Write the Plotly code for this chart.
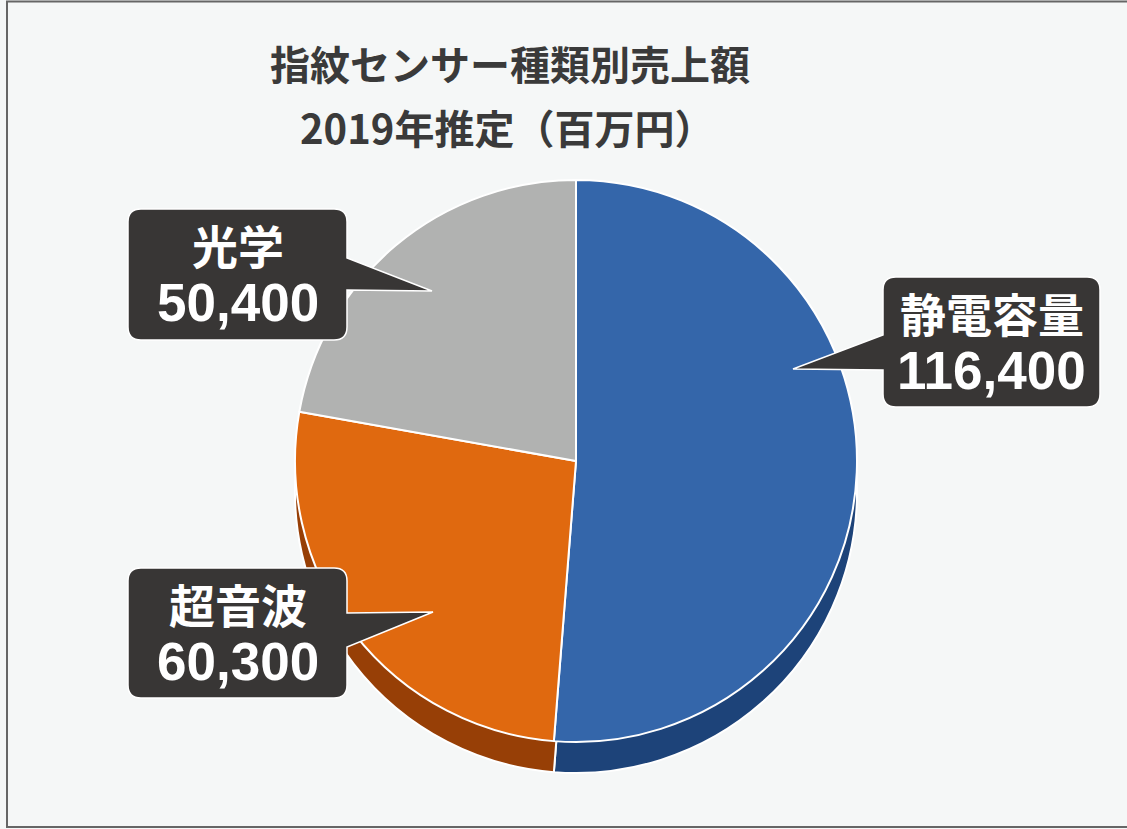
import plotly.graph_objects as go

# ---- data ----
categories = ["静電容量", "超音波", "光学"]
values = [116400, 60300, 50400]
title_line1 = "指紋センサー種類別売上額"
title_line2 = "2019年推定（百万円）"

top_colors = ["#3466aa", "#e0690f", "#b1b2b1"]
side_colors = ["#1d4379", "#973f06", "#7e7f7e"]

W, H = 1127, 829
BG = "#f5f7f7"

# pie geometry in pixels
cx, cy, r, depth = 576, 461, 281, 31


def dom(cx_, cy_, r_):
    return dict(x=[(cx_ - r_) / W, (cx_ + r_) / W],
                y=[(H - cy_ - r_) / H, (H - cy_ + r_) / H])


fig = go.Figure()
# side (depth) of the 3D pie
fig.add_trace(go.Pie(
    labels=categories, values=values, sort=False, direction="clockwise",
    rotation=0, textinfo="none", hoverinfo="skip", showlegend=False,
    marker=dict(colors=side_colors, line=dict(color="white", width=2)),
    domain=dom(cx, cy + depth, r),
))
# top face
fig.add_trace(go.Pie(
    labels=categories, values=values, sort=False, direction="clockwise",
    rotation=0, textinfo="none", hoverinfo="label+value", showlegend=False,
    marker=dict(colors=top_colors, line=dict(color="white", width=2)),
    domain=dom(cx, cy, r),
))

# callout boxes: (box x0, y0, x1, y1, side, pointer base a, base b, tip x, tip y)
callouts = {
    "静電容量": (883, 277, 1100, 407, "left", 335, 370, 793, 369),
    "超音波": (128, 568, 347, 698, "right", 613, 647, 433, 612),
    "光学": (128, 209, 347, 340, "right", 258, 290, 432, 291),
}


def callout_path(x0, y0, x1, y1, side, a, b, tx, ty, rr=13):
    p = f"M {x0+rr},{y0} L {x1-rr},{y0} Q {x1},{y0} {x1},{y0+rr} "
    if side == "right":
        p += f"L {x1},{a} L {tx},{ty} L {x1},{b} "
    p += f"L {x1},{y1-rr} Q {x1},{y1} {x1-rr},{y1} L {x0+rr},{y1} Q {x0},{y1} {x0},{y1-rr} "
    if side == "left":
        p += f"L {x0},{b} L {tx},{ty} L {x0},{a} "
    p += f"L {x0},{y0+rr} Q {x0},{y0} {x0+rr},{y0} Z"
    return p


shapes = []
annotations = []
for cat, val in zip(categories, values):
    x0, y0, x1, y1, side, a, b, tx, ty = callouts[cat]
    shapes.append(dict(type="path", xref="x", yref="y",
                       path=callout_path(x0, y0, x1, y1, side, a, b, tx, ty),
                       fillcolor="#383635", line=dict(color="white", width=1.5)))
    xc = (x0 + x1) / 2
    annotations.append(dict(x=xc, y=y0 + 35, xref="x", yref="y", text=cat,
                            showarrow=False, xanchor="center", yanchor="middle",
                            font=dict(family="Noto Sans CJK JP", size=46,
                                      color="white", weight="bold")))
    annotations.append(dict(x=xc, y=y0 + 93, xref="x", yref="y", text=f"{val:,}",
                            showarrow=False, xanchor="center", yanchor="middle",
                            font=dict(family="Liberation Sans, Arial, sans-serif",
                                      size=53, color="white", weight="bold")))

# title
annotations.append(dict(x=510, y=63, xref="x", yref="y", text=title_line1, showarrow=False,
                        xanchor="center", yanchor="middle",
                        font=dict(family="Noto Sans CJK JP", size=40, color="#3a3a3a", weight="bold")))
annotations.append(dict(x=507, y=127, xref="x", yref="y", text=title_line2, showarrow=False,
                        xanchor="center", yanchor="middle",
                        font=dict(family="Noto Sans CJK JP", size=40, color="#3a3a3a", weight="bold")))

# outer border
shapes.append(dict(type="rect", xref="x", yref="y", x0=7, y0=1.5, x1=1140, y1=827,
                   line=dict(color="#666666", width=2), fillcolor="rgba(0,0,0,0)", layer="above"))

fig.update_layout(
    width=W, height=H, margin=dict(l=0, r=0, t=0, b=0),
    paper_bgcolor=BG, plot_bgcolor="rgba(0,0,0,0)",
    xaxis=dict(range=[0, W], visible=False, fixedrange=True),
    yaxis=dict(range=[H, 0], visible=False, fixedrange=True),
    shapes=shapes, annotations=annotations,
)

fig.write_html("out.html", config={"displayModeBar": False},
               post_script="document.body.style.margin='0';document.body.style.overflow='hidden';")
